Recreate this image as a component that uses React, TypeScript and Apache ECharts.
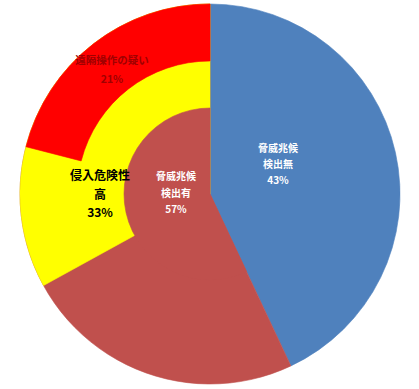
import React, { useEffect, useRef } from "react";
import * as echarts from "echarts";

// Top level split: threat signs detected / not detected (percent of all)
const mainNames = ["脅威兆候\n検出無", "脅威兆候\n検出有"];
const mainValues = [43, 57];
const mainColors = ["#4F81BD", "#C0504D"];

// Breakdown of the "detected" group (percent of all)
const subNames = ["侵入危険性\n高", "遠隔操作の疑い"];
const subValues = [33, 21];
const subColors = ["#FFFF00", "#FF0000"];

const CENTER: [number, number] = [210, 194];
const R = 190;
const R_INNER = 86;
const R_RING = 133;
const FONT = '"Noto Sans CJK JP", "Noto Sans", sans-serif';

const hidden = {
  itemStyle: { color: "rgba(0,0,0,0)" },
  label: { show: false },
  emphasis: { disabled: true },
};

type LabelSpec = {
  name: string;
  value: number;
  at: [number, number];
  color: string;
  size: number;
  lh: number;
};

const labels: LabelSpec[] = [
  { name: mainNames[0], value: mainValues[0], at: [278, 163], color: "#FFFFFF", size: 10, lh: 16 },
  { name: mainNames[1], value: mainValues[1], at: [176, 192], color: "#FFFFFF", size: 10, lh: 16.5 },
  { name: subNames[0], value: subValues[0], at: [100, 193], color: "#000000", size: 12, lh: 18.5 },
  { name: subNames[1], value: subValues[1], at: [112, 69], color: "#A00000", size: 10.5, lh: 19 },
];

export default function App() {
  const ref = useRef<HTMLDivElement>(null);

  useEffect(() => {
    if (!ref.current) return;
    const chart = echarts.init(ref.current, undefined, { renderer: "svg" });
    const total = mainValues[0] + mainValues[1];

    const base = {
      type: "pie" as const,
      center: CENTER,
      clockwise: true,
      startAngle: 90,
      avoidLabelOverlap: false,
      silent: true,
      emphasis: { disabled: true },
      label: { show: false },
      labelLine: { show: false },
    };

    // slices get a hairline border in their own colour so no seam shows between them
    const solid = (c: string) => ({ color: c, borderColor: c, borderWidth: 0.6 });

    chart.setOption({
      animation: false,
      backgroundColor: "#FFFFFF",
      series: [
        {
          ...base,
          z: 1,
          radius: [0, R],
          data: mainNames.map((n, i) => ({
            name: n,
            value: mainValues[i],
            itemStyle: solid(mainColors[i]),
          })),
        },
        {
          ...base,
          z: 2,
          radius: [0, R],
          data: [
            { name: "_rest1", value: total - subValues[0], ...hidden },
            { name: subNames[0], value: subValues[0], itemStyle: solid(subColors[0]) },
          ],
        },
        {
          ...base,
          z: 3,
          radius: [R_RING, R],
          data: [
            { name: "_rest2", value: total - subValues[1], ...hidden },
            { name: subNames[1], value: subValues[1], itemStyle: solid(subColors[1]) },
          ],
        },
        {
          ...base,
          z: 4,
          radius: [0, R_INNER],
          data: [
            { name: "_rest3", value: mainValues[0], ...hidden },
            { name: mainNames[1], value: mainValues[1], itemStyle: solid(mainColors[1]) },
          ],
        },
      ],
      graphic: labels.map((l) => ({
        type: "text",
        z: 100,
        silent: true,
        style: {
          text: `${l.name}\n${l.value}%`,
          x: l.at[0],
          y: l.at[1],
          align: "center",
          verticalAlign: "middle",
          fill: l.color,
          fontFamily: FONT,
          fontWeight: "bold",
          fontSize: l.size,
          lineHeight: l.lh,
        },
      })),
    });

    return () => chart.dispose();
  }, []);

  return (
    <div
      ref={ref}
      style={{ position: "fixed", left: 0, top: 0, width: 419, height: 389 }}
    />
  );
}
